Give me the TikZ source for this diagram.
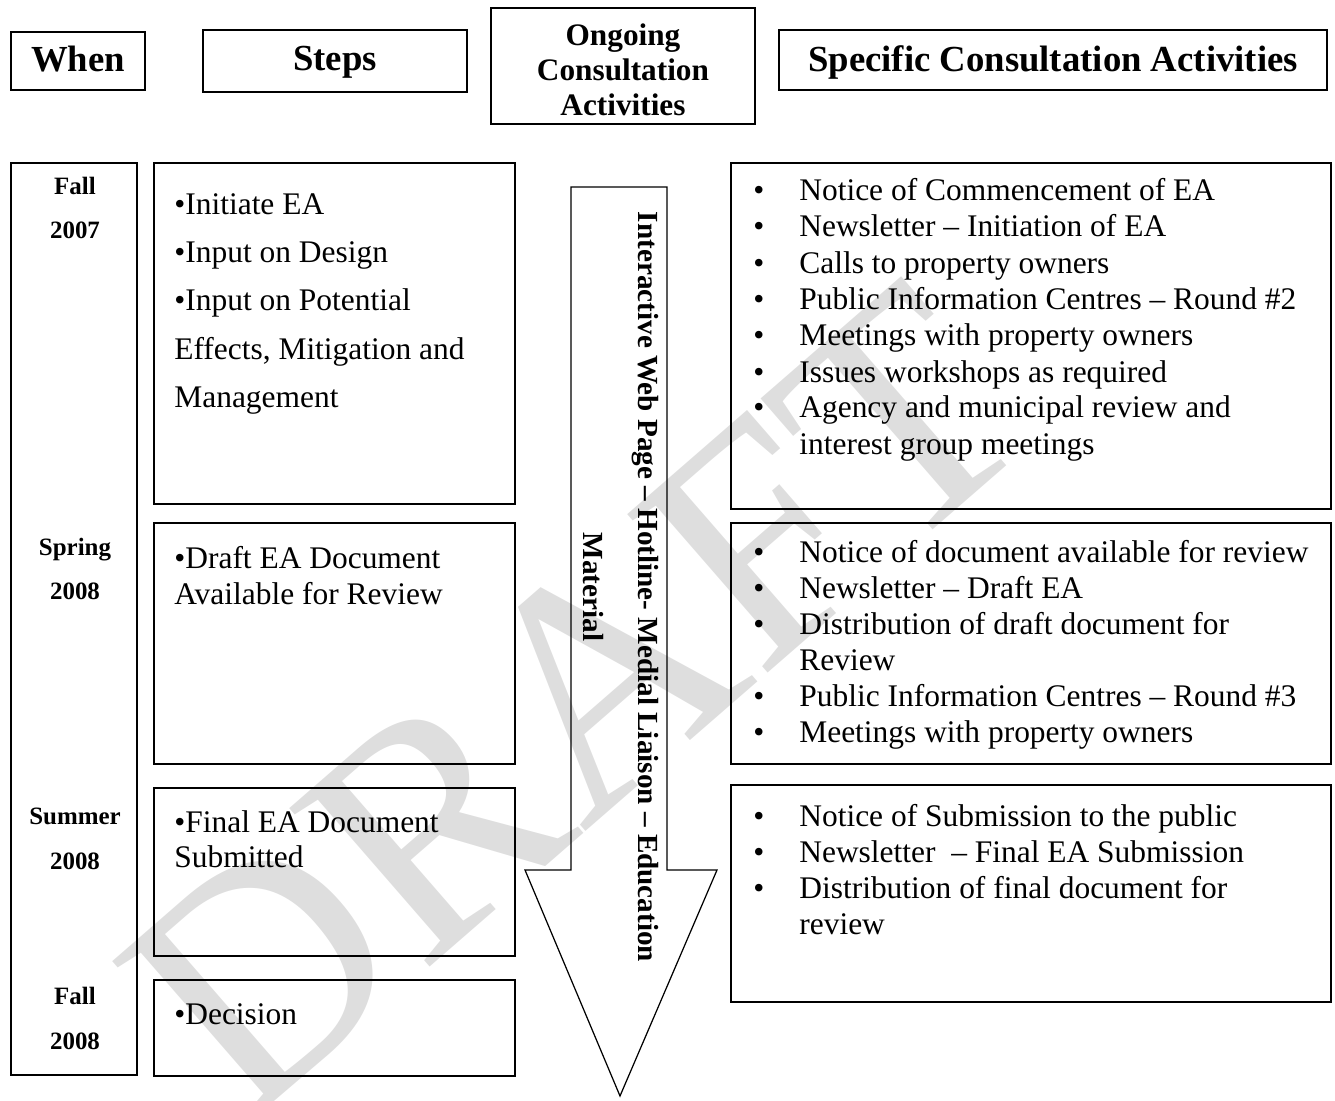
\documentclass[tikz,border=0pt]{standalone}
\usepackage{fontspec}
\setmainfont{Liberation Serif}
\newcommand\bodyfont{\fontsize{17.9}{20.4}\selectfont}
\newcommand\datefont{\fontsize{14.2}{17}\selectfont\bfseries}
\newcommand\hdrfont{\fontsize{20.9}{24}\selectfont\bfseries}
\newcommand\ongfont{\fontsize{17.8}{19.8}\selectfont\bfseries}
\newcommand\arrowfont{\fontsize{16.6}{19}\selectfont\bfseries}

\begin{document}
\begin{tikzpicture}[x=0.02cm, y=-0.02cm,
	boxline/.style={draw, line width=1.1pt, inner sep=0pt},
	hdrbox/.style={boxline, line width=1pt},
	hdrtxt/.style={anchor=base, inner sep=0pt, font=\hdrfont},
	steptxt/.style={anchor=base west, inner sep=0pt, font=\bodyfont},
	acttxt/.style={anchor=base west, inner sep=0pt, font=\bodyfont},
	datetxt/.style={anchor=base, inner sep=0pt, font=\datefont}]
			%%%%% START %%%%%
			\useasboundingbox (0,0) rectangle (1335,1101);
			
			% watermark
			\node[rotate=41, text=black!13, inner sep=0pt, font=\fontsize{184}{184}\selectfont] (draft) at (575,700) {DRAFT};
			
			% headers
			\node[hdrbox, minimum width=2.68cm, minimum height=1.16cm] (when) at (78,61) {};
			\node[hdrtxt] (whentxt) at (78,72) {When};
			\node[hdrbox, minimum width=5.28cm, minimum height=1.24cm] (steps) at (335,61) {};
			\node[hdrtxt] (stepstxt) at (335,71) {Steps};
			\node[hdrbox, minimum width=5.28cm, minimum height=2.32cm] (ongoing) at (623,66) {};
			\node[inner sep=0pt, align=center, font=\ongfont] (ongoingtxt) at (623,70) {Ongoing\\Consultation\\Activities};
			\node[hdrbox, minimum width=10.96cm, minimum height=1.2cm] (specific) at (1053,60) {};
			\node[hdrtxt] (specifictxt) at (1053,72) {Specific Consultation Activities};
			
			% when column
			\node[boxline, line width=0.8pt, minimum width=2.52cm, minimum height=18.24cm] (whencol) at (74,619) {};
			\node[datetxt] (fall7) at (75,195) {Fall};
			\node[datetxt] (yr7) at (75,239) {2007};
			\node[datetxt] (spring8) at (75,555) {Spring};
			\node[datetxt] (yr8a) at (75,599) {2008};
			\node[datetxt] (summer8) at (75,824) {Summer};
			\node[datetxt] (yr8b) at (75,869) {2008};
			\node[datetxt] (fall8) at (75,1004) {Fall};
			\node[datetxt] (yr8c) at (75,1049) {2008};
			
			% steps
			\node[boxline, minimum width=7.22cm, minimum height=6.82cm] (step1) at (334.5,333.5) {};
			\node[boxline, minimum width=7.22cm, minimum height=4.82cm] (step2) at (334.5,643.5) {};
			\node[boxline, minimum width=7.22cm, minimum height=3.36cm] (step3) at (334.5,872) {};
			\node[boxline, minimum width=7.22cm, minimum height=1.92cm] (step4) at (334.5,1028) {};
			
			\foreach \yy/\txt [count=\i] in {215/\textbullet Initiate EA, 263/\textbullet Input on Design, 311/\textbullet Input on Potential, {359/Effects, Mitigation and}, 407/Management}
				\node[steptxt] (s1-\i) at (174,\yy) {\txt};
			\node[steptxt] (s2-1) at (174,568) {\textbullet Draft EA Document};
			\node[steptxt] (s2-2) at (174,604) {Available for Review};
			\node[steptxt] (s3-1) at (174,832) {\textbullet Final EA Document};
			\node[steptxt] (s3-2) at (174,867) {Submitted};
			\node[steptxt] (s4-1) at (174,1024) {\textbullet Decision};
			
			% ongoing arrow
			\draw[line width=0.7pt] (571,187) -- (667,187) -- (667,870) -- (717,870) -- (620,1096) -- (525,870) -- (571,870) -- cycle;
			\node[rotate=-90, inner sep=0pt, font=\arrowfont] (channels) at (645,587) {Interactive Web Page -- Hotline- Medial Liaison -- Education};
			\node[rotate=-90, inner sep=0pt, font=\arrowfont] (material) at (593,587) {Material};
			
			% specific activities
			\node[boxline, line width=1pt, minimum width=12cm, minimum height=6.92cm] (act1) at (1031,336) {};
			\node[boxline, line width=1pt, minimum width=12cm, minimum height=4.82cm] (act2) at (1031,643.5) {};
			\node[boxline, line width=1pt, minimum width=12cm, minimum height=4.34cm] (act3) at (1031,893.5) {};
			
			\foreach \yy/\bul/\txt [count=\i] in {201/1/Notice of Commencement of EA, 237/1/Newsletter -- Initiation of EA, 274/1/Calls to property owners, 310/1/Public Information Centres -- Round \#2, 346/1/Meetings with property owners, 382/1/Issues workshops as required, 418/1/Agency and municipal review and, 454/0/interest group meetings}{
				\node[acttxt] (a1-\i) at (799,\yy) {\txt};
				\ifnum\bul=1 \node[acttxt] (a1b-\i) at (753,\yy) {\textbullet}; \fi
			}
			\foreach \yy/\bul/\txt [count=\i] in {562/1/Notice of document available for review, 598/1/Newsletter -- Draft EA, 634/1/Distribution of draft document for, 670/0/Review, 706/1/Public Information Centres -- Round \#3, 742/1/Meetings with property owners}{
				\node[acttxt] (a2-\i) at (799,\yy) {\txt};
				\ifnum\bul=1 \node[acttxt] (a2b-\i) at (753,\yy) {\textbullet}; \fi
			}
			\foreach \yy/\bul/\txt [count=\i] in {826/1/Notice of Submission to the public, 862/1/Newsletter~ -- Final EA Submission, 898/1/Distribution of final document for, 934/0/review}{
				\node[acttxt] (a3-\i) at (799,\yy) {\txt};
				\ifnum\bul=1 \node[acttxt] (a3b-\i) at (753,\yy) {\textbullet}; \fi
			}
			%%%%% END %%%%%
\end{tikzpicture}
\end{document}
